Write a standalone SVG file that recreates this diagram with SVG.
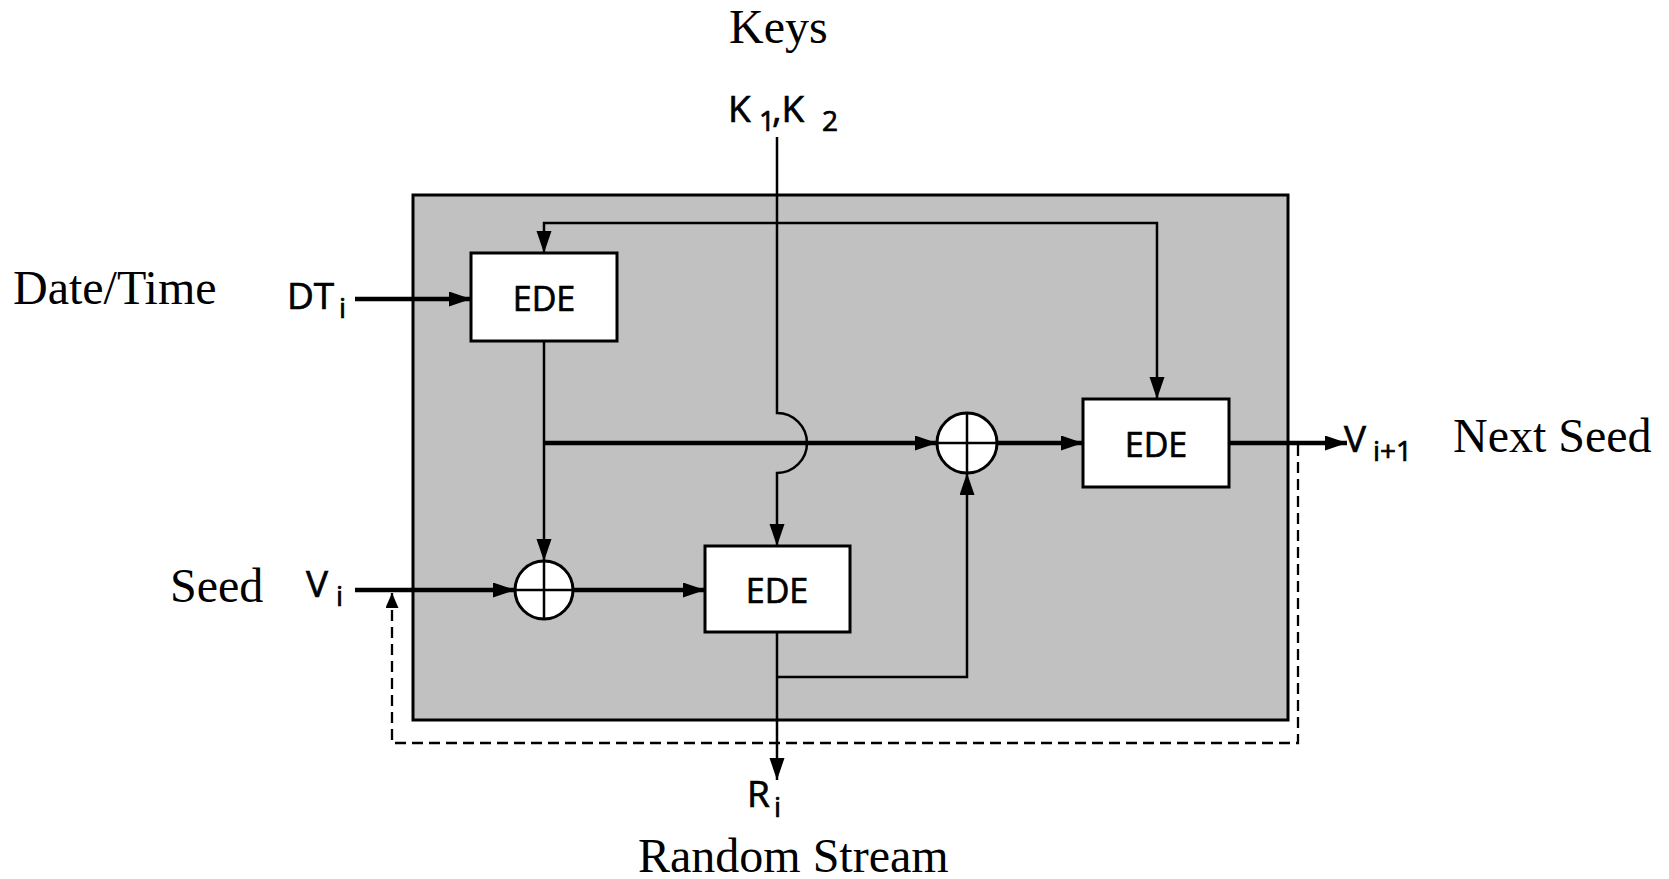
<svg xmlns="http://www.w3.org/2000/svg" width="1669" height="879" viewBox="0 0 1669 879">
<defs>
<marker id="ah" markerUnits="userSpaceOnUse" markerWidth="24" markerHeight="16" refX="22" refY="7.5" orient="auto">
<path d="M0,0 L22,7.5 L0,15 z" fill="#000"/>
</marker>
<marker id="ahs" markerUnits="userSpaceOnUse" markerWidth="16" markerHeight="14" refX="15" refY="6.5" orient="auto">
<path d="M0,0 L15,6.5 L0,13 z" fill="#000"/>
</marker>
<style>
.serif{font-family:"Liberation Serif","Times New Roman",serif;font-size:48px;fill:#000}
.sans{font-family:"Open Sans","Noto Sans",sans-serif;fill:#000;stroke:#000;stroke-width:0.7}
.lbl{font-size:37px}
.sub{font-size:28px}
.box{fill:#fff;stroke:#000;stroke-width:3}
.xor{fill:#fff;stroke:#000;stroke-width:3}
.thin{fill:none;stroke:#000;stroke-width:2.5}
.thick{fill:none;stroke:#000;stroke-width:4.5}
.dash{fill:none;stroke:#000;stroke-width:2.3;stroke-dasharray:11 6}
.ede{font-family:"Open Sans","Noto Sans",sans-serif;font-size:34px;fill:#000;stroke:#000;stroke-width:0.7;text-anchor:middle}
</style>
</defs>
<rect id="frame" x="413" y="195" width="875" height="525" fill="#c0c1c0" stroke="#000" stroke-width="3"/>
<g id="connectors">
<path class="thin" d="M777,137 V413 A30,30 0 0 1 777,473 V546" marker-end="url(#ah)"/>
<path class="thin" d="M850,223 H544 V253" marker-end="url(#ah)"/>
<path class="thin" d="M850,223 H1157 V399" marker-end="url(#ah)"/>
<path class="thick" d="M355,299 H471" marker-end="url(#ah)"/>
<path class="thin" d="M544,341 V561" marker-end="url(#ah)"/>
<path class="thick" d="M544,443 H937" marker-end="url(#ah)"/>
<path class="thick" d="M355,590 H515" marker-end="url(#ah)"/>
<path class="thick" d="M573,590 H705" marker-end="url(#ah)"/>
<path class="thick" d="M997,443 H1083" marker-end="url(#ah)"/>
<path class="thick" d="M1229,443 H1347" marker-end="url(#ah)"/>
<path class="thin" d="M777,632 V780" marker-end="url(#ah)"/>
<path class="thin" d="M777,677 H967 V473" marker-end="url(#ah)"/>
<path class="dash" d="M1298,445 V743 H392 V593" marker-end="url(#ahs)"/>
</g>
<g id="ede1">
<rect class="box" x="471" y="253" width="146" height="88"/>
<text class="ede" x="544" y="311">EDE</text>
</g>
<g id="ede2">
<rect class="box" x="705" y="546" width="145" height="86"/>
<text class="ede" x="777" y="603">EDE</text>
</g>
<g id="ede3">
<rect class="box" x="1083" y="399" width="146" height="88"/>
<text class="ede" x="1156" y="457">EDE</text>
</g>
<g id="xor1">
<circle class="xor" cx="544" cy="590" r="29"/>
<path d="M515,590 H573 M544,561 V619" stroke="#000" stroke-width="2.5"/>
</g>
<g id="xor2">
<circle class="xor" cx="967" cy="443" r="30"/>
<path d="M937,443 H997 M967,413 V473" stroke="#000" stroke-width="2.5"/>
</g>
<g id="labels">
<text class="serif" x="729" y="43">Keys</text>
<text class="serif" x="13" y="304">Date/Time</text>
<text class="serif" x="170" y="602">Seed</text>
<text class="serif" x="1453" y="452">Next Seed</text>
<text class="serif" x="638" y="872">Random Stream</text>
<text class="sans lbl" x="728" y="122">K</text>
<text class="sans sub" x="759" y="131">1</text>
<text class="sans lbl" x="772" y="122">,K</text>
<text class="sans sub" x="822" y="131">2</text>
<text class="sans lbl" x="287" y="309">DT</text>
<text class="sans sub" x="339" y="318">i</text>
<text class="sans lbl" x="306" y="597">V</text>
<text class="sans sub" x="336" y="606">i</text>
<text class="sans lbl" x="1344" y="452">V</text>
<text class="sans sub" x="1373" y="461">i+1</text>
<text class="sans lbl" x="747" y="807">R</text>
<text class="sans sub" x="774" y="817">i</text>
</g>
</svg>
